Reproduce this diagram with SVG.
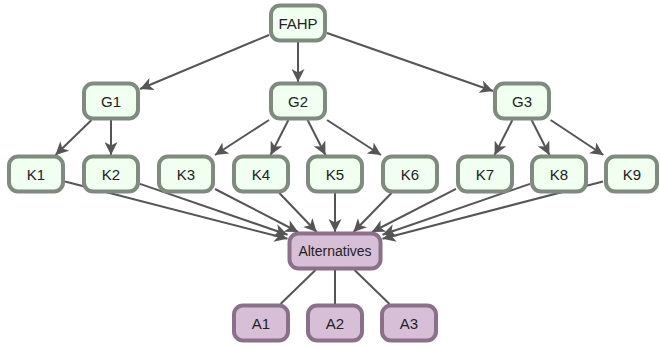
<svg xmlns="http://www.w3.org/2000/svg" width="660" height="349" viewBox="0 0 660 349">
<style>
.g rect{fill:#f0fff0;stroke:#7e8b7e;stroke-width:4}
.p rect{fill:#d8bfd8;stroke:#8a7088;stroke-width:4}
text{font-family:"Liberation Sans",Arial,sans-serif;font-size:15px;fill:#222;text-anchor:middle;dominant-baseline:central}
#edges line{stroke:#555;stroke-width:2}
#edges .a{marker-end:url(#arr)}
</style>
<defs>
<marker id="arr" markerUnits="userSpaceOnUse" markerWidth="14" markerHeight="13" refX="13" refY="6.5" orient="auto">
<path d="M0,0 L13,6.5 L0,13 L3.5,6.5 z" fill="#555"/>
</marker>
</defs>
<g id="edges">
<line class="a" x1="269" y1="35" x2="140" y2="89"/>
<line class="a" x1="298" y1="42" x2="298" y2="82"/>
<line class="a" x1="327" y1="33" x2="493" y2="91"/>
<line class="a" x1="91.5" y1="120" x2="55.5" y2="155"/>
<line class="a" x1="111" y1="120" x2="111" y2="155"/>
<line class="a" x1="269" y1="120" x2="215" y2="155"/>
<line class="a" x1="288.4" y1="120" x2="270.6" y2="155"/>
<line class="a" x1="307.6" y1="120" x2="325.4" y2="155"/>
<line class="a" x1="327" y1="120" x2="381" y2="155"/>
<line class="a" x1="512.4" y1="120" x2="494.6" y2="155"/>
<line class="a" x1="531.6" y1="120" x2="549.4" y2="155"/>
<line class="a" x1="550.6" y1="120" x2="603.4" y2="155"/>
<line class="a" x1="65" y1="181.5" x2="287.5" y2="238.8"/>
<line class="a" x1="140" y1="183.9" x2="287.5" y2="234.7"/>
<line class="a" x1="215" y1="189" x2="298.2" y2="232"/>
<line class="a" x1="279.3" y1="193" x2="316.7" y2="232"/>
<line class="a" x1="335" y1="193" x2="335" y2="232"/>
<line class="a" x1="391.5" y1="193" x2="353.5" y2="232"/>
<line class="a" x1="456" y1="188.9" x2="372" y2="232"/>
<line class="a" x1="530" y1="183.9" x2="382.5" y2="234.7"/>
<line class="a" x1="603" y1="181.5" x2="382.5" y2="238.7"/>
<line x1="315.5" y1="270" x2="280.5" y2="304"/>
<line x1="335" y1="270" x2="335" y2="304"/>
<line x1="354.5" y1="270" x2="389.5" y2="304"/>
</g>
<g id="FAHP" class="g"><rect x="271" y="5.5" width="54" height="35" rx="9"/><text x="298" y="23">FAHP</text></g>
<g id="G1" class="g"><rect x="84" y="83.5" width="54" height="35" rx="9"/><text x="111" y="101">G1</text></g>
<g id="G2" class="g"><rect x="271" y="83.5" width="54" height="35" rx="9"/><text x="298" y="101">G2</text></g>
<g id="G3" class="g"><rect x="495" y="83.5" width="54" height="35" rx="9"/><text x="522" y="101">G3</text></g>
<g id="K1" class="g"><rect x="9" y="156.5" width="54" height="35" rx="9"/><text x="36" y="174">K1</text></g>
<g id="K2" class="g"><rect x="84" y="156.5" width="54" height="35" rx="9"/><text x="111" y="174">K2</text></g>
<g id="K3" class="g"><rect x="159" y="156.5" width="54" height="35" rx="9"/><text x="186" y="174">K3</text></g>
<g id="K4" class="g"><rect x="234" y="156.5" width="54" height="35" rx="9"/><text x="261" y="174">K4</text></g>
<g id="K5" class="g"><rect x="308" y="156.5" width="54" height="35" rx="9"/><text x="335" y="174">K5</text></g>
<g id="K6" class="g"><rect x="383" y="156.5" width="54" height="35" rx="9"/><text x="410" y="174">K6</text></g>
<g id="K7" class="g"><rect x="458" y="156.5" width="54" height="35" rx="9"/><text x="485" y="174">K7</text></g>
<g id="K8" class="g"><rect x="532" y="156.5" width="54" height="35" rx="9"/><text x="559" y="174">K8</text></g>
<g id="K9" class="g"><rect x="606" y="156.5" width="51" height="35" rx="9"/><text x="632" y="174">K9</text></g>
<g id="Alternatives" class="p"><rect x="289.5" y="233.5" width="91" height="35" rx="9"/><text x="335" y="251" style="font-size:14px">Alternatives</text></g>
<g id="A1" class="p"><rect x="234" y="305.5" width="54" height="35" rx="9"/><text x="261" y="323">A1</text></g>
<g id="A2" class="p"><rect x="308" y="305.5" width="54" height="35" rx="9"/><text x="335" y="323">A2</text></g>
<g id="A3" class="p"><rect x="382" y="305.5" width="54" height="35" rx="9"/><text x="409" y="323">A3</text></g>
</svg>
